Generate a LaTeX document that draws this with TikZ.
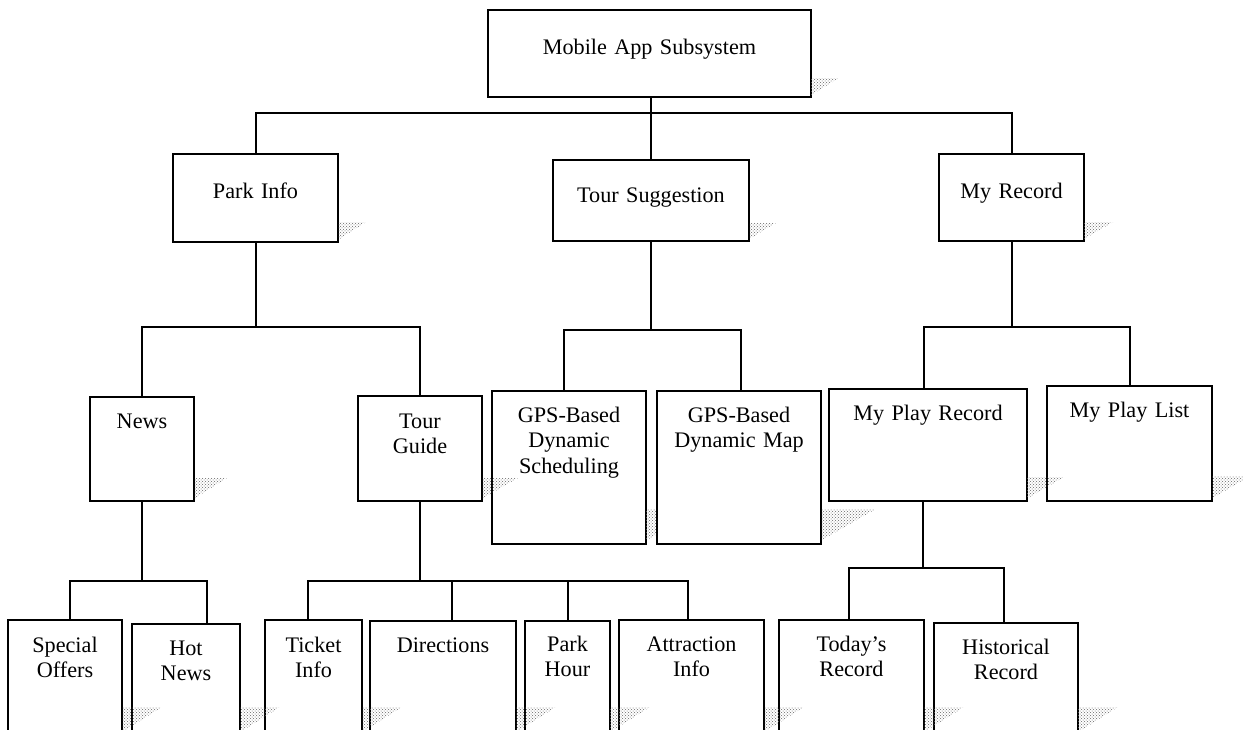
\documentclass[tikz,border=0pt]{standalone}
\usepackage{fontspec}
\setmainfont{Liberation Serif}
\usetikzlibrary{calc}
\usetikzlibrary{patterns}
\usetikzlibrary{positioning}

\newcommand{\shadowtri}[3]{%
	\fill[shadowfill] (#1.south east) ++(0,-#3) -- ++(#2,0) -- ($(#1.south east)+(0,-0.1*#3)$) -- cycle;}

\begin{document}
\begin{tikzpicture}[
		x=1pt,y=-1pt,
		font=\fontsize{22.2}{25.5}\selectfont,
		box/.style={draw,line width=2.2pt,fill=white,inner sep=0pt,outer sep=0pt,align=center,anchor=north},
		link/.style={line width=2pt},
		shadowfill/.style={pattern=crosshatch dots,pattern color=black!60}
	]
		\clip (0,0) rectangle (1243,729);
		\fill[white] (0,0) rectangle (1243,729);

		\node [box,text width=323pt,text height=44pt,text depth=43pt] (root) at (649.5,10) {Mobile App Subsystem};

		\node [box,text width=165pt,text height=44pt,text depth=44pt] (park) at (255.5,154) {Park Info};
		\node [box,text width=196pt,text height=42pt,text depth=39pt] (tour) at (651,160) {Tour Suggestion};
		\node [box,text width=145pt,text height=44pt,text depth=43pt] (rec) at (1011.5,154) {My Record};

		\node [box,text width=104pt,text height=31pt,text depth=73pt] (news) at (142,397) {News};
		\node [box,text width=124pt,text height=32pt,text depth=73pt] (guide) at (420,396) {Tour\\Guide};
		\node [box,text width=154pt,text height=31pt,text depth=122pt] (sched) at (569,391) {GPS-Based\\Dynamic\\Scheduling};
		\shadowtri{sched}{55}{35}
		\node [box,text width=164pt,text height=31pt,text depth=122pt] (map) at (739,391) {GPS-Based\\Dynamic Map};
		\node [box,text width=198pt,text height=31pt,text depth=81pt] (play) at (928,389) {My Play Record};
		\node [box,text width=165pt,text height=31pt,text depth=84pt] (list) at (1129.5,386) {My Play List};

		\node [box,text width=114pt,text height=32pt,text depth=83pt] (offers) at (65,620) {Special\\Offers};
		\node [box,text width=108pt,text height=31pt,text depth=80pt] (hot) at (186,624) {Hot\\News};
		\node [box,text width=97pt,text height=32pt,text depth=83pt] (ticket) at (313.5,620) {Ticket\\Info};
		\node [box,text width=146pt,text height=31pt,text depth=83pt] (dir) at (443,621) {Directions};
		\node [box,text width=85pt,text height=30pt,text depth=84pt] (hour) at (567.5,621) {Park\\Hour};
		\node [box,text width=145pt,text height=31pt,text depth=84pt] (attr) at (691.5,620) {Attraction\\Info};
		\node [box,text width=145pt,text height=31pt,text depth=84pt] (today) at (851.5,620) {Today’s\\Record};
		\node [box,text width=144pt,text height=31pt,text depth=81pt] (hist) at (1006,623) {Historical\\Record};

		\shadowtri{root}{28}{19}
		\shadowtri{park}{28}{20}
		\shadowtri{tour}{27}{18}
		\shadowtri{rec}{29}{19}
		\shadowtri{news}{33}{23}
		\shadowtri{guide}{36}{23}
		\shadowtri{map}{55}{35}
		\shadowtri{play}{37}{24}
		\shadowtri{list}{38}{25}
		\foreach \n in {offers,hot,ticket,dir,hour,attr,today,hist}
			{\shadowtri{\n}{40}{28}}

		\coordinate (topbus) at (651,113);
		\coordinate (parkbus) at (255,327);
		\coordinate (tourbus) at (651,330);
		\coordinate (recbus) at (1011,327);
		\coordinate (newsbus) at (143,581);
		\coordinate (guidebus) at (420,581);
		\coordinate (playbus) at (923,568);

		\draw [link] (root.south -| topbus) -- (topbus) -- (tour);
		\draw [link] (park) |- (topbus) -| (rec);

		\draw [link] (park) -- (park |- parkbus);
		\draw [link] (news) |- (parkbus) -| (guide);
		\draw [link] (tour) -- (tour |- tourbus);
		\draw [link] ([xshift=-5pt]sched.north) |- (tourbus) -| ([xshift=2pt]map.north);
		\draw [link] (rec) -- (rec |- recbus);
		\draw [link] ([xshift=-4pt]play.north) |- (recbus) -| (list);

		\draw [link] (news) -- (news |- newsbus);
		\draw [link] ([xshift=5pt]offers.north) |- (newsbus) -| ([xshift=21pt]hot.north);
		\draw [link] (guide) -- (guide |- guidebus);
		\draw [link] ([xshift=-6pt]ticket.north) |- (guidebus) -| ([xshift=-4pt]attr.north);
		\draw [link] ([xshift=9pt]dir.north) -- ++(0,-40);
		\draw [link] (hour) -- (hour |- guidebus);
		\draw [link] ([xshift=-5pt]play.south) -- (playbus);
		\draw [link] ([xshift=-3pt]today.north) |- (playbus) -| ([xshift=-2pt]hist.north);
	\end{tikzpicture}
\end{document}
